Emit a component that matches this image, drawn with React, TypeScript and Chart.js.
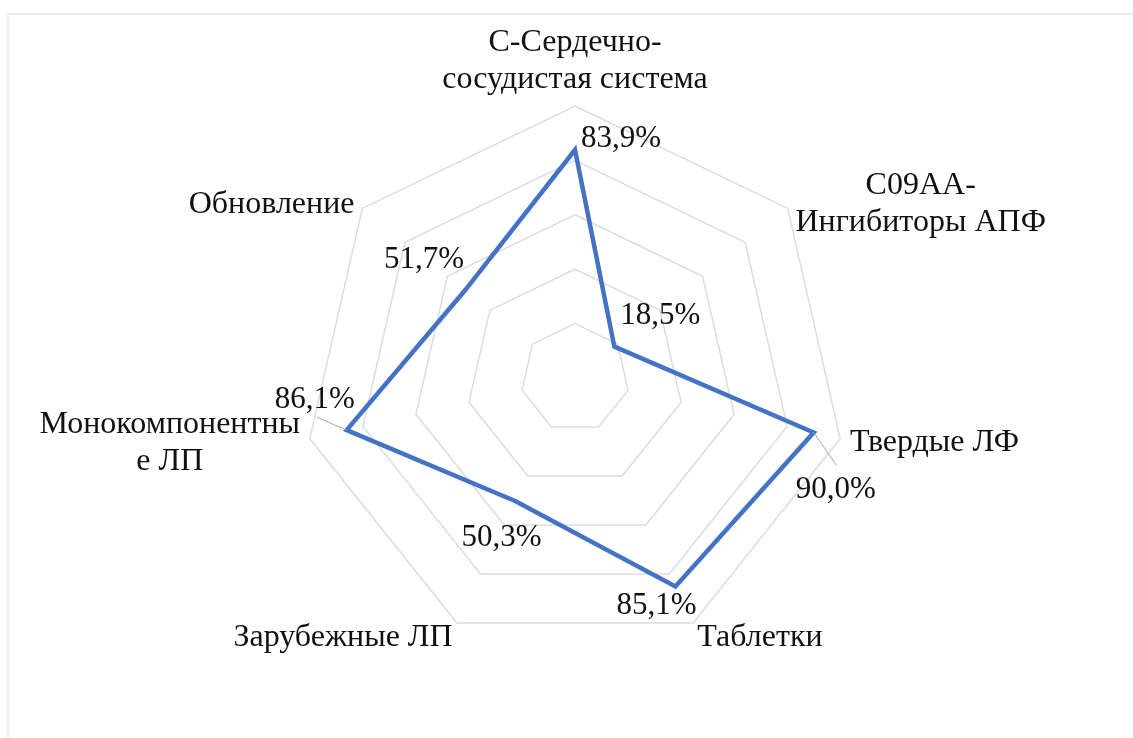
import React, { useEffect, useRef } from "react";
import { Chart, registerables } from "chart.js";

Chart.register(...registerables);

const CATEGORIES: (string | string[])[] = [
  ["С-Сердечно-", "сосудистая система"],
  ["C09AA-", "Ингибиторы АПФ"],
  "Твердые ЛФ",
  "Таблетки",
  "Зарубежные ЛП",
  ["Монокомпонентны", "е ЛП"],
  "Обновление",
];

const VALUES: number[] = [83.9, 18.5, 90.0, 85.1, 50.3, 86.1, 51.7];

const VALUE_LABELS: string[] = ["83,9%", "18,5%", "90,0%", "85,1%", "50,3%", "86,1%", "51,7%"];

const SCALE_MIN = 0;
const SCALE_MAX = 100;
const SCALE_STEP = 20;

// label placement offsets (styling): center of value label relative to its point
const VALUE_LABEL_OFFSETS: [number, number][] = [
  [46, -11],
  [46, -31],
  [22, 57],
  [-19, 19],
  [-14, 37],
  [-32, -30],
  [-41, -30],
];
// leader line end (relative to point), or null
const LEADERS: ([number, number] | null)[] = [null, null, [23, 33], null, null, [-30, -13], null];

const FONT = '"Liberation Serif", "Times New Roman", serif';
const CAT_FONT_SIZE = 32;
const VAL_FONT_SIZE = 31;
const LINE_H = 37;
const LABEL_GAP = 10;

const labelPlugin = {
  id: "excelLabels",
  afterDatasetsDraw(chart: any) {
    const ctx: CanvasRenderingContext2D = chart.ctx;
    const scale = chart.scales.r;
    const R = scale.drawingArea;
    ctx.save();
    ctx.fillStyle = "#111111";
    ctx.textBaseline = "middle";
    ctx.textAlign = "center";

    // category labels
    ctx.font = `${CAT_FONT_SIZE}px ${FONT}`;
    CATEGORIES.forEach((lbl, i) => {
      const p = scale.getPointPosition(i, R + LABEL_GAP);
      const a = scale.getIndexAngle(i);
      const s = Math.sin(a);
      const c = Math.cos(a);
      const lines = Array.isArray(lbl) ? lbl : [lbl];
      const bw = Math.max(...lines.map((l) => ctx.measureText(l).width));
      const bh = lines.length * LINE_H;
      const left = s > 0.05 ? p.x : s < -0.05 ? p.x - bw : p.x - bw / 2;
      const top = c > 0.95 ? p.y - bh + 2 : p.y - bh / 2 + (c < -0.5 ? 6 : 2);
      lines.forEach((l, k) => {
        ctx.fillText(l, left + bw / 2, top + LINE_H * (k + 0.5));
      });
    });

    // value labels
    ctx.font = `${VAL_FONT_SIZE}px ${FONT}`;
    const meta = chart.getDatasetMeta(0);
    meta.data.forEach((pt: any, i: number) => {
      const [dx, dy] = VALUE_LABEL_OFFSETS[i];
      const leader = LEADERS[i];
      if (leader) {
        ctx.strokeStyle = "#a6a6a6";
        ctx.lineWidth = 1;
        ctx.beginPath();
        ctx.moveTo(pt.x, pt.y);
        ctx.lineTo(pt.x + leader[0], pt.y + leader[1]);
        ctx.stroke();
      }
      ctx.fillText(VALUE_LABELS[i], pt.x + dx, pt.y + dy);
    });
    ctx.restore();
  },
};

export default function App() {
  const ref = useRef<HTMLCanvasElement | null>(null);
  useEffect(() => {
    if (!ref.current) return;
    const chart = new Chart(ref.current, {
      type: "radar",
      data: {
        labels: CATEGORIES.map((c) => (Array.isArray(c) ? c.join(" ") : c)),
        datasets: [
          {
            data: VALUES,
            borderColor: "#4472C4",
            backgroundColor: "rgba(0,0,0,0)",
            borderWidth: 4.5,
            fill: false,
            pointRadius: 0,
            pointHoverRadius: 0,
            borderJoinStyle: "miter",
          } as any,
        ],
      },
      options: {
        animation: false,
        responsive: false,
        events: [],
        layout: { padding: { left: 303, right: 286, top: 106, bottom: 88 } },
        plugins: { legend: { display: false }, tooltip: { enabled: false } },
        scales: {
          r: {
            min: SCALE_MIN,
            max: SCALE_MAX,
            ticks: { display: false, stepSize: SCALE_STEP },
            grid: { color: "#dcdcdc", lineWidth: 1.5 },
            angleLines: { display: false },
            pointLabels: { display: false },
          },
        },
      },
      plugins: [labelPlugin],
    });
    return () => chart.destroy();
  }, []);

  return (
    <div style={{ position: "fixed", left: 0, top: 0, width: 1133, height: 738, background: "#fff", overflow: "hidden" }}>
      <div
        style={{
          position: "absolute",
          left: 7,
          top: 13,
          width: 1140,
          height: 740,
          borderTop: "2px solid #ebebeb",
          borderLeft: "2px solid #ebebeb",
        }}
      />
      <canvas ref={ref} width={1133} height={738} style={{ position: "absolute", left: 0, top: 0 }} />
    </div>
  );
}
